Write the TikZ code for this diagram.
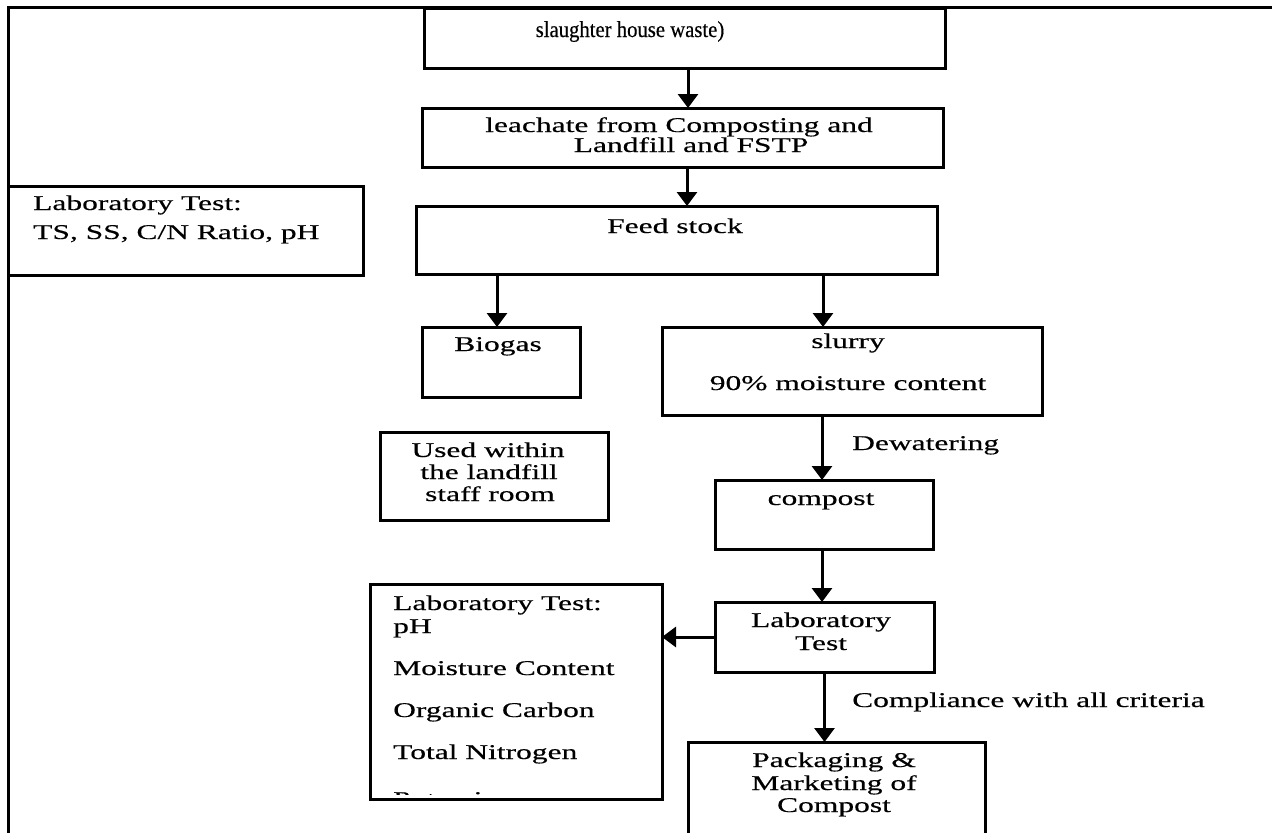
\documentclass[tikz,border=0pt]{standalone}
\usepackage{fontspec}
\setmainfont{Liberation Serif}
\newfontfamily\wf[FakeStretch=1.5,FakeBold=0.4]{Liberation Serif}
\newfontfamily\nf[FakeStretch=0.9,FakeBold=0.4]{Liberation Serif}
\usetikzlibrary{arrows.meta}
\begin{document}
\begin{tikzpicture}[x=1pt,y=-1pt,
  box/.style={draw, line width=3pt, rectangle, inner sep=0pt, outer sep=0pt, anchor=center},
  wt/.style={inner sep=0pt, anchor=base, font=\wf\fontsize{21}{23}\selectfont},
  wl/.style={wt, anchor=base west},
  arr/.style={line width=3pt, -{Triangle[width=20pt,length=14pt]}},
  frame/.style={line width=3pt}]
\useasboundingbox (0,0) rectangle (1278,833);
\clip (0,0) rectangle (1278,833);
% frame
\coordinate (fl) at (8,833);
\coordinate (fc) at (8,7);
\coordinate (fr) at (1272,7);
\draw[frame] (fl) -- (fc) -- (fr);
% boxes
\node[box, minimum width=521pt, minimum height=60pt] (s1) at (684.5,38) {};
\node[box, minimum width=521pt, minimum height=59pt] (leach) at (682.5,137.5) {};
\node[box, minimum width=521pt, minimum height=68pt] (feed) at (676.5,240) {};
\node[box, minimum width=355pt, minimum height=89pt] (labtop) at (185.5,230.5) {};
\node[box, minimum width=158pt, minimum height=70pt] (biogas) at (501,362) {};
\node[box, minimum width=380pt, minimum height=88pt] (slurry) at (852,371) {};
\node[box, minimum width=228pt, minimum height=88pt] (used) at (494,476) {};
\node[box, minimum width=218pt, minimum height=69pt] (compost) at (824,514.5) {};
\node[box, minimum width=219pt, minimum height=70pt] (labtest) at (824.5,637) {};
\node[box, minimum width=292pt, minimum height=215pt] (labbl) at (516,691.5) {};
\node[box, minimum width=297pt, minimum height=108pt] (pack) at (836.5,796) {};
% texts
\node[inner sep=0pt, anchor=base, font=\nf\fontsize{23}{25}\selectfont] (t-s1) at (630,37) {slaughter house waste)};
\node[wt] (t-le1) at (679,132) {leachate from Composting and};
\node[wt] (t-le2) at (691,152) {Landfill and FSTP};
\node[wt] (t-feed) at (675,233) {Feed stock};
\node[wl] (t-lt1) at (33,210) {Laboratory Test:};
\node[wl] (t-lt2) at (33,239) {TS, SS, C/N Ratio, pH};
\node[wt] (t-bio) at (498,351) {Biogas};
\node[wt] (t-sl1) at (848,348) {slurry};
\node[wt] (t-sl2) at (848,390) {90\% moisture content};
\node[wl] (t-dew) at (852,450) {Dewatering};
\node[wt] (t-us1) at (488,457) {Used within};
\node[wt] (t-us2) at (489,479) {the landfill};
\node[wt] (t-us3) at (490,501) {staff room};
\node[wt] (t-comp) at (821,505) {compost};
\node[wt] (t-lb1) at (821,627) {Laboratory};
\node[wt] (t-lb2) at (821,650) {Test};
\node[wl] (t-cmp) at (852,707) {Compliance with all criteria};
\node[wt] (t-pk1) at (834,767) {Packaging \&};
\node[wt] (t-pk2) at (834,790) {Marketing of};
\node[wt] (t-pk3) at (834,812) {Compost};
\node[wl] (t-bl1) at (393,610) {Laboratory Test:};
\node[wl] (t-bl2) at (393,633) {pH};
\node[wl] (t-bl3) at (393,675) {Moisture Content};
\node[wl] (t-bl4) at (393,717) {Organic Carbon};
\node[wl] (t-bl5) at (393,759) {Total Nitrogen};
\begin{scope}
\clip (372,586) rectangle (660,794);
\node[wl] (t-bl6) at (393,806) {Potassium};
\end{scope}
% arrows
\draw[arr] ([xshift=3.5pt]s1.south) -- ([xshift=3.5pt]s1.south |- leach.north);
\draw[arr] ([xshift=4.5pt]leach.south) -- ([xshift=4.5pt]leach.south |- feed.north);
\draw[arr] ([xshift=-4pt]biogas.north |- feed.south) -- ([xshift=-4pt]biogas.north);
\draw[arr] ([xshift=-1pt]compost.north |- feed.south) -- ([xshift=-1pt]compost.north |- slurry.north);
\draw[arr] ([xshift=-2pt]compost.north |- slurry.south) -- ([xshift=-2pt]compost.north);
\draw[arr] ([xshift=-2pt]compost.south) -- ([xshift=-2pt]compost.south |- labtest.north);
\draw[arr] (labtest.west) -- (labtest.west -| labbl.east);
\draw[arr] (labtest.south) -- (labtest.south |- pack.north);
\end{tikzpicture}
\end{document}
